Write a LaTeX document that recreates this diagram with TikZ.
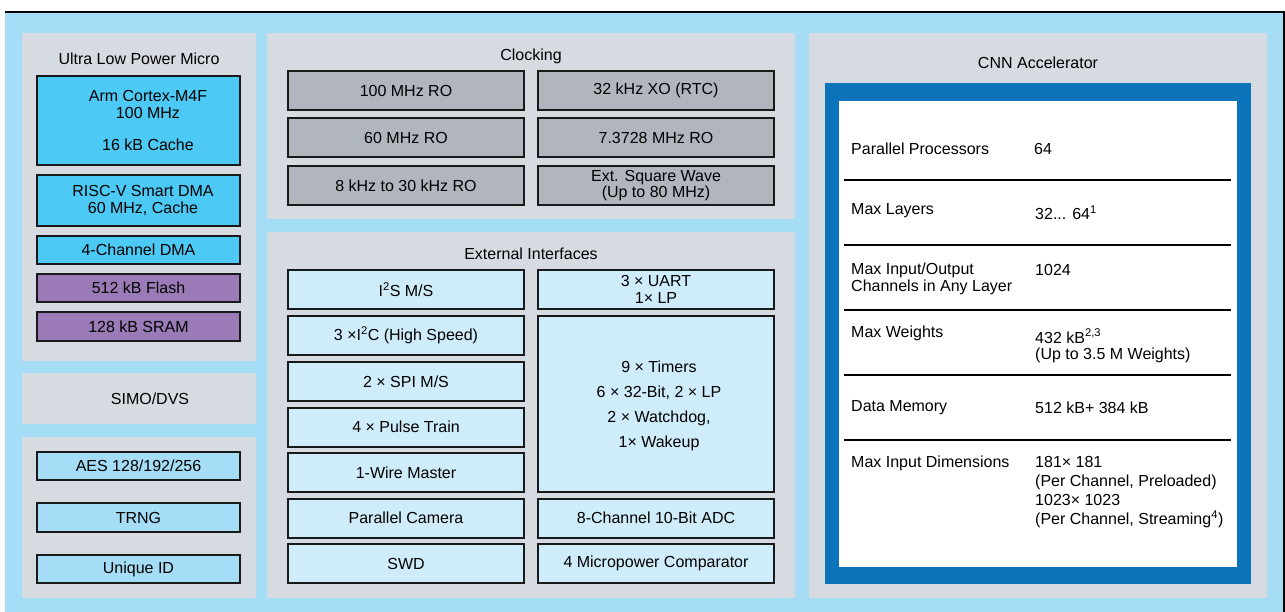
\documentclass[tikz,border=0pt]{standalone}
\usepackage{fontspec}
\setmainfont{Liberation Sans}
\definecolor{bgblue}{HTML}{A4DDF5}
\definecolor{panelgray}{HTML}{D6DBE2}
\definecolor{armcyan}{HTML}{4CC9F4}
\definecolor{mempurple}{HTML}{9A7BB7}
\definecolor{clkgray}{HTML}{B1B5BE}
\definecolor{ifblue}{HTML}{CFECFA}
\definecolor{secblue}{HTML}{A4DDF5}
\definecolor{cnnblue}{HTML}{0A73BA}
\begin{document}
\begin{tikzpicture}[x=1pt,y=-1pt,
  every node/.style={font=\fontsize{16}{16.5}\selectfont, inner sep=0pt, align=center},
  panel/.style={fill=panelgray, draw=none},
  blk/.style={draw=black!90, line width=2pt, minimum width=236pt},
  lblk/.style={blk, minimum width=203pt},
  armbox/.style={lblk, fill=armcyan},
  membox/.style={lblk, fill=mempurple},
  secbox/.style={lblk, fill=secblue},
  clkbox/.style={blk, fill=clkgray, minimum height=39pt},
  ifbox/.style={blk, fill=ifblue, minimum height=39pt},
  title/.style={text=black},
  rowlabel/.style={anchor=west, align=left},
  rowline/.style={line width=1.8pt, black}
]
\useasboundingbox (0,0) rectangle (1285,612);
\fill[white] (0,0) rectangle (1285,612);
\fill[bgblue] (5,12) rectangle (1284,612);
\draw[line width=2pt, black] (5,12) -- (1284,12) -- (1284,612);

% panels
\fill[panel] (22,33) rectangle (256,361);
\fill[panel] (22,373) rectangle (256,424);
\fill[panel] (22,437) rectangle (256,598);
\fill[panel] (267,33) rectangle (795,219);
\fill[panel] (267,232) rectangle (795,598);
\fill[panel] (809,33) rectangle (1267,598);

% Ultra Low Power Micro
\node[title] (ulpt) at (139,59) {Ultra Low Power Micro};
\node[armbox, minimum height=89pt] (arm) at (138.5,120.5) {};
\node (armt) at (148,120.5) {Arm Cortex-M4F\\100 MHz\\[16pt]16 kB Cache};
\node[armbox, minimum height=51pt] (risc) at (138.5,200.5) {};
\node (risct) at (143,200.5) {RISC-V Smart DMA\\60 MHz, Cache};
\node[armbox, minimum height=28pt] (dma) at (138.5,250) {4-Channel DMA};
\node[membox, minimum height=28pt] (flash) at (138.5,288) {512 kB Flash};
\node[membox, minimum height=29pt] (sram) at (138.5,326.5) {128 kB SRAM};

\node (simo) at (150,398.5) {SIMO/DVS};

\node[secbox, minimum height=28pt] (aes) at (138.5,466) {AES 128/192/256};
\node[secbox, minimum height=29pt] (trng) at (138.5,517.5) {TRNG};
\node[secbox, minimum height=28pt] (uid) at (138.5,569) {Unique ID};

% Clocking
\node[title] (clkt) at (531,56) {Clocking};
\node[clkbox] (c1) at (406,90.5) {100 MHz RO};
\node[clkbox] (c2) at (656,90.5) {32 kHz XO (RTC)};
\node[clkbox] (c3) at (406,137.5) {60 MHz RO};
\node[clkbox] (c4) at (656,137.5) {7.3728 MHz RO};
\node[clkbox] (c5) at (406,185.5) {8 kHz to 30 kHz RO};
\node[clkbox] (c6) at (656,185.5) {Ext. Square Wave\\[0.1pt](Up to 80 MHz)};

% External Interfaces
\node[title] (ext) at (531,253.5) {External Interfaces};
\node[ifbox] (i1) at (406,289.5) {I\textsuperscript{2}S M/S};
\node[ifbox] (i2) at (406,335.5) {3 ×I\textsuperscript{2}C (High Speed)};
\node[ifbox] (i3) at (406,381.5) {2 × SPI M/S};
\node[ifbox] (i4) at (406,427) {4 × Pulse Train};
\node[ifbox] (i5) at (406,472.5) {1-Wire Master};
\node[ifbox] (i6) at (406,518) {Parallel Camera};
\node[ifbox] (i7) at (406,563.5) {SWD};
\node[ifbox] (r1) at (656,289.5) {3 × UART\\1× LP};
\node[ifbox, minimum height=176pt] (r2) at (656,404) {};
\node (r2t) at (659,406) {9 × Timers\\[8.5pt]6 × 32-Bit, 2 × LP\\[8.5pt]2 × Watchdog,\\[8.5pt]1× Wakeup};
\node[ifbox] (r3) at (656,518) {8-Channel 10-Bit ADC};
\node[ifbox] (r4) at (656,563.5) {4 Micropower Comparator};

% CNN Accelerator
\node[title] (cnnt) at (1038,62.5) {CNN Accelerator};
\fill[cnnblue] (825,83) rectangle (1251,584);
\fill[white] (839,101) rectangle (1237,567);
\coordinate (la) at (844,180); \coordinate (lb) at (1231,180);
\coordinate (lc) at (844,245); \coordinate (ld) at (1231,245);
\coordinate (le) at (844,310); \coordinate (lf) at (1231,310);
\coordinate (lg) at (844,375); \coordinate (lh) at (1231,375);
\coordinate (li) at (844,440); \coordinate (lj) at (1231,440);
\draw[rowline] (la) -- (lb);
\draw[rowline] (lc) -- (ld);
\draw[rowline] (le) -- (lf);
\draw[rowline] (lg) -- (lh);
\draw[rowline] (li) -- (lj);

\node[rowlabel] (p1) at (851,149) {Parallel Processors};
\node[rowlabel] (v1) at (1034,149) {64};
\node[rowlabel] (p2) at (851,211) {Max Layers};
\node[rowlabel] (v2) at (1035,213) {32... 64\textsuperscript{1}};
\node[rowlabel] (p3) at (851,279) {Max Input/Output\\Channels in Any Layer};
\node[rowlabel] (v3) at (1035,270) {1024};
\node[rowlabel] (p4) at (851,333) {Max Weights};
\node[rowlabel] (v4) at (1035,346) {432 kB\textsuperscript{2,3}\\(Up to 3.5 M Weights)};
\node[rowlabel] (p5) at (851,408) {Data Memory};
\node[rowlabel] (v5) at (1035,408) {512 kB+ 384 kB};
\node[rowlabel] (p6) at (851,463) {Max Input Dimensions};
\node[rowlabel] (v6) at (1035,492) {181× 181\\[2.5pt](Per Channel, Preloaded)\\[2.5pt]1023× 1023\\[2.5pt](Per Channel, Streaming\textsuperscript{4})};
\end{tikzpicture}
\end{document}
